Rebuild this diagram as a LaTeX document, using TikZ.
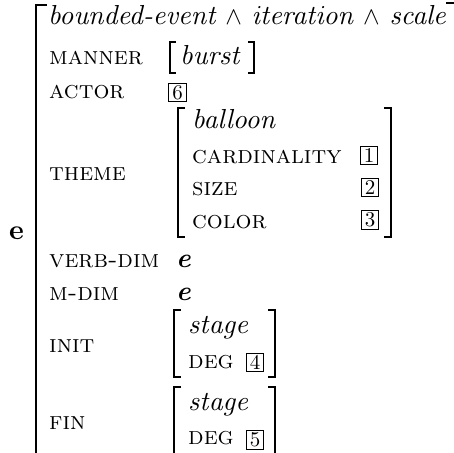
\documentclass[tikz,border=0pt]{standalone}
\font\Fit=cmti10 at 27.5pt
\font\Fsc=cmcsc10 at 25pt
\font\Fbf=cmbx10 at 28pt
\font\Fbi=cmbxti10 at 27.5pt
\font\Fdg=cmr10 at 21pt
\begin{document}
\begin{tikzpicture}[x=1pt,y=-1pt,
  txt/.style={anchor=base west,inner sep=0pt,font=\Fit},
  lab/.style={anchor=base west,inner sep=0pt,font=\Fsc},
  tag/.style={draw,line width=0.9pt,inner sep=0pt,minimum width=17.5pt,minimum height=18.5pt,font=\Fdg},
  brk/.style={line width=1.5pt},
  obrk/.style={line width=2.2pt}]
\useasboundingbox (0,0) rectangle (454,452);
% outer
\node[txt,font=\Fbf] (e0) at (9,239) {e};
\draw[obrk] (47,5) -- (36,5) -- (36,470);
\draw[obrk] (446,3) -- (455,3);
\node[txt] (top) at (48,25) {\fontsize{27}{32}\selectfont\Fit bounded-event \(\wedge\) iteration \(\wedge\) scale};
% manner
\node[lab] (manner) at (49,64) {manner};
\draw[brk] (176,42) -- (170,42) -- (170,73) -- (176,73);
\draw[brk] (248,42) -- (254,42) -- (254,73) -- (248,73);
\node[txt] (burst) at (180,64) {burst};
% actor
\node[lab] (actor) at (49,98) {actor};
\node[tag] (t6) at (177.5,92.5) {6};
% theme
\node[lab] (theme) at (49,180) {theme};
\draw[brk] (185,108) -- (178,108) -- (178,237) -- (185,237);
\draw[brk] (384,108) -- (391,108) -- (391,237) -- (384,237);
\node[txt] (balloon) at (192,128) {balloon};
\node[lab] (card) at (192,163) {cardinality};
\node[tag] (t1) at (369,155.5) {1};
\node[lab] (size) at (192,195) {size};
\node[tag] (t2) at (370,187.5) {2};
\node[lab] (color) at (192,228) {color};
\node[tag] (t3) at (370,220) {3};
% verb-dim, m-dim
\node[lab] (vdim) at (49,267) {verb-dim};
\node[txt,font=\Fbi] (e1) at (176,267) {e};
\node[lab] (mdim) at (49,300) {m-dim};
\node[txt,font=\Fbi] (e2) at (176,300) {e};
% init
\node[lab] (init) at (49,352) {init};
\draw[brk] (181,310) -- (174,310) -- (174,377) -- (181,377);
\draw[brk] (268,310) -- (275,310) -- (275,377) -- (268,377);
\node[txt] (st1) at (188,333) {stage};
\node[lab] (deg1) at (188,368) {deg};
\node[tag] (t4) at (255,362.5) {4};
% fin
\node[lab] (fin) at (49,429) {fin};
\draw[brk] (181,387) -- (174,387) -- (174,470);
\draw[brk] (268,387) -- (275,387) -- (275,470);
\node[txt] (st2) at (188,410) {stage};
\node[lab] (deg2) at (188,444) {deg};
\node[tag] (t5) at (255,440) {5};
\end{tikzpicture}
\end{document}
